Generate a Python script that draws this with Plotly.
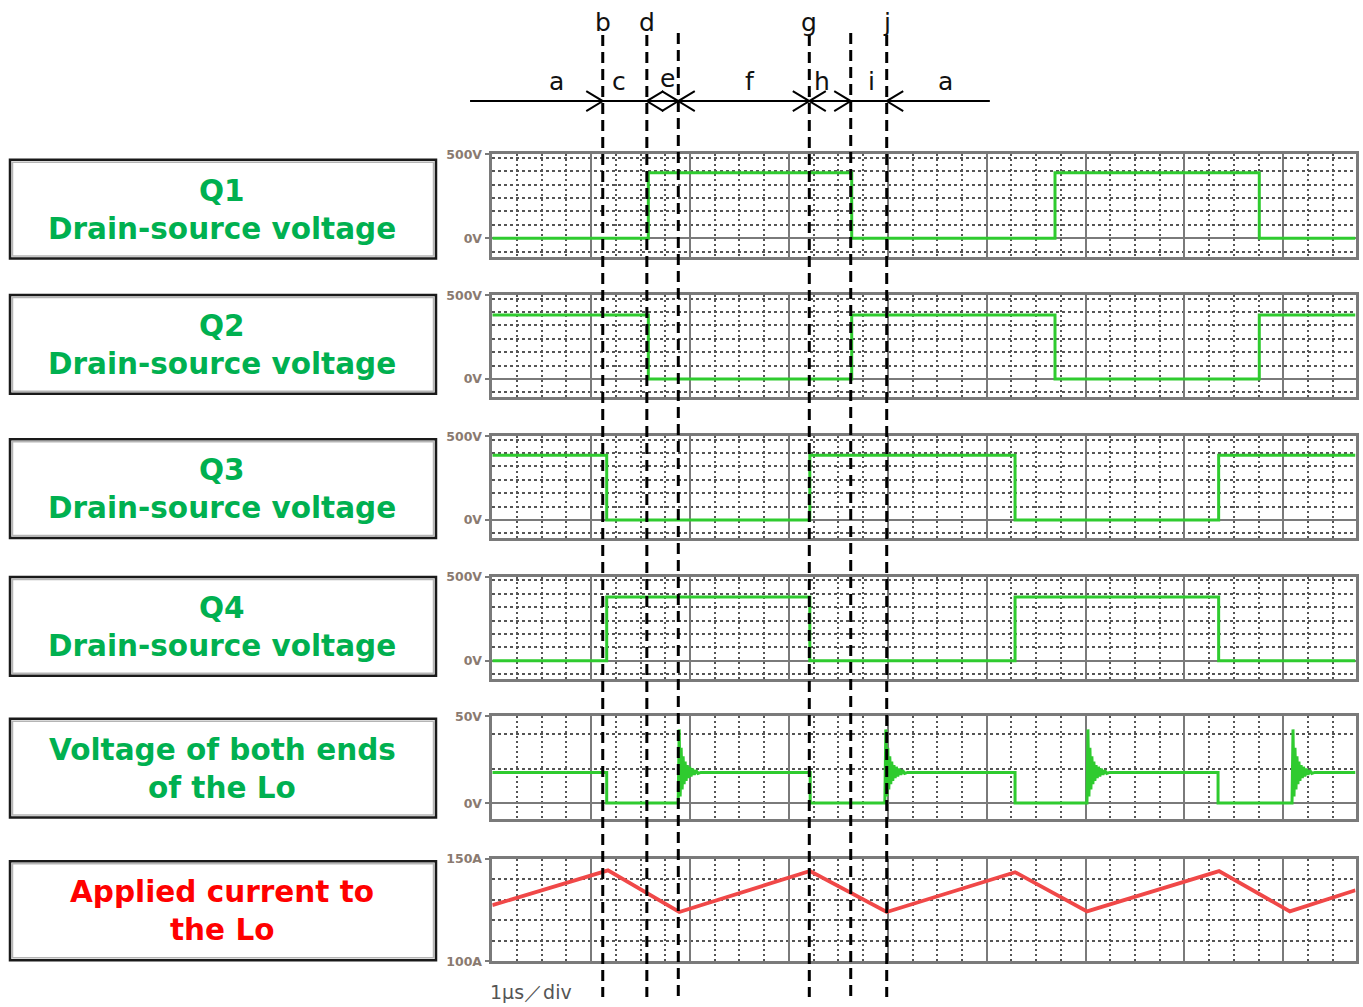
import plotly.graph_objects as go

W, H = 1363, 1007

# ------------------------------------------------------------------ data
T_END = 8.73  # visible time window, us (1 us / div)

Q1_T = [0, 1.578, 3.635, 5.691, 7.757, T_END]
Q1_V = [0, 391, 0, 391, 0, 0]
Q2_T = [0, 1.578, 3.635, 5.691, 7.757, T_END]
Q2_V = [382, 0, 382, 0, 382, 382]
Q3_T = [0, 1.157, 3.211, 5.287, 7.346, T_END]
Q3_V = [387, 0, 387, 0, 387, 387]
Q4_T = [0, 1.157, 3.211, 5.287, 7.346, T_END]
Q4_V = [0, 381, 0, 381, 0, 0]

LO_FALL = [1.157, 3.215, 5.287, 7.340]
LO_RISE = [1.880, 3.970, 6.014, 8.088]
LO_HIGH = 17.8
LO_LOW = 0.3
RING_DT = [0.000, 0.010, 0.020, 0.030, 0.040, 0.050, 0.060, 0.070, 0.080,
           0.092, 0.104, 0.116, 0.130, 0.145, 0.162, 0.180, 0.200, 0.230]
RING_V = [0.3, 42.5, 4.0, 32.0, 8.0, 27.0, 11.0, 24.0, 13.0,
          22.0, 14.5, 21.0, 15.5, 20.0, 16.5, 19.0, 17.2, 17.8]

I_T = [0, 1.170, 1.891, 3.213, 3.989, 5.287, 6.015, 7.350, 8.066, T_END]
I_A = [127.3, 144.3, 124.0, 144.0, 124.0, 143.4, 124.3, 143.9, 124.3, 134.6]

# interval markers (us)
EVENT_T = [1.117, 1.563, 1.881, 3.206, 3.625, 3.989]
EVENT_LBL = ["b", "d", "", "g", "", "j"]
INTERVAL_LBL = ["a", "c", "e", "f", "h", "i", "a"]
INTERVAL_X = [0.654, 1.281, 1.767, 2.606, 3.334, 3.840, 4.588]

BOX_LINES = [("Q1", "Drain-source voltage"), ("Q2", "Drain-source voltage"),
             ("Q3", "Drain-source voltage"), ("Q4", "Drain-source voltage"),
             ("Voltage of both ends", "of the Lo"), ("Applied current to", "the Lo")]

Y_TICKS = [([0, 500], ["0V", "500V"]), ([0, 500], ["0V", "500V"]),
           ([0, 500], ["0V", "500V"]), ([0, 500], ["0V", "500V"]),
           ([0, 50], ["0V", "50V"]), ([100, 150], ["100A", "150A"])]
Y_MINOR = [[-80, 80, 160, 240, 320, 400, 480]] * 4 + [[20, 40], [110, 120, 130, 140]]
Y_RANGE = [[-109, 500]] * 4 + [[-8.8, 50], [100, 150]]

# ------------------------------------------------------------------ layout constants
# vertical pixel compensation observed in the capture (target = 0.987 * render + 6)
SY, OY = 0.987, 6.0


def rp(y):
    return (y - OY) / SY


PX_L, PX_R = 492.3, 1355.5
PANEL_PX = [(152.7, 255.0), (293.8, 396.1), (435.0, 537.3),
            (576.1, 678.4), (715.7, 818.3), (858.3, 961.0)]
BOX_TOP = [158, 293.5, 438, 576, 718, 861]
BOX_H = 99
BOX_X0, BOX_X1 = 10, 436
GREEN_TXT = "#00B050"
RED_TXT = "#FF0000"
WAVE_GREEN = "#2FCB2F"
WAVE_RED = "#F04848"
GRID_MAJOR = "#7a7a7a"
GRID_MINOR = "#555555"

# build Lo voltage series from readings
lo_t, lo_v = [0.0], [LO_HIGH]
for f, r in zip(LO_FALL, LO_RISE):
    lo_t += [f, f]
    lo_v += [LO_HIGH, LO_LOW]
    for dt, v in zip(RING_DT, RING_V):
        lo_t.append(r + dt)
        lo_v.append(v)
lo_t.append(T_END)
lo_v.append(LO_HIGH)

fig = go.Figure()

series = [(Q1_T, Q1_V, "hv", WAVE_GREEN), (Q2_T, Q2_V, "hv", WAVE_GREEN),
          (Q3_T, Q3_V, "hv", WAVE_GREEN), (Q4_T, Q4_V, "hv", WAVE_GREEN),
          (lo_t, lo_v, "linear", WAVE_GREEN), (I_T, I_A, "linear", WAVE_RED)]

layout = {}
d0, d1 = PX_L / W, PX_R / W
for i, (tx, ty, shp, col) in enumerate(series):
    n = i + 1
    sx = "" if n == 1 else str(n)
    fig.add_trace(go.Scatter(x=tx, y=ty, mode="lines",
                             line=dict(color=col, width=3.8 if i == 5 else 3.0, shape=shp),
                             xaxis="x" + sx, yaxis="y" + sx, showlegend=False, hoverinfo="skip"))
    top, bot = PANEL_PX[i]
    layout["xaxis" + sx] = dict(
        domain=[d0, d1], range=[0, T_END], anchor="y" + sx,
        showticklabels=False, ticks="", dtick=1, tick0=0,
        showgrid=True, gridcolor=GRID_MAJOR, gridwidth=2,
        minor=dict(dtick=0.25, tick0=0, showgrid=True, gridcolor=GRID_MINOR,
                   gridwidth=1.5, griddash="2px,3px"),
        showline=True, mirror=True, linecolor=GRID_MAJOR, linewidth=2.5,
        zeroline=False, fixedrange=True)
    tv, tt = Y_TICKS[i]
    layout["yaxis" + sx] = dict(
        domain=[1 - rp(bot) / H, 1 - rp(top) / H], range=Y_RANGE[i], anchor="x" + sx,
        tickmode="array", tickvals=tv, ticktext=tt,
        ticks="outside", ticklen=5, tickcolor=GRID_MAJOR, tickwidth=1.5,
        tickfont=dict(family="DejaVu Sans", size=12.5, color="#8a7a70", weight="bold"),
        showgrid=True, gridcolor=GRID_MAJOR, gridwidth=2,
        minor=dict(tickvals=Y_MINOR[i], showgrid=True, gridcolor=GRID_MINOR,
                   gridwidth=1.5, griddash="3px,3px"),
        showline=True, mirror=True, linecolor=GRID_MAJOR, linewidth=2.5,
        zeroline=False, fixedrange=True)

# overlay axes: time (same scale as panels) horizontally, pixel rows vertically
span = T_END / (d1 - d0)
x7_range = [-d0 * span, T_END + (1 - d1) * span]
fig.add_trace(go.Scatter(x=[], y=[], xaxis="x7", yaxis="y7", showlegend=False, hoverinfo="skip"))
layout["xaxis7"] = dict(domain=[0, 1], range=x7_range, visible=False, anchor="y7", fixedrange=True)
layout["yaxis7"] = dict(domain=[0, 1], range=[SY * H + OY, OY], visible=False, anchor="x7", fixedrange=True)

shapes = []
annotations = []

# dashed event lines
DASH_TOP = [33, 33, 31, 33, 31, 33]
for t, y0 in zip(EVENT_T, DASH_TOP):
    shapes.append(dict(type="line", xref="x7", yref="y7", x0=t, x1=t, y0=y0, y1=997,
                       line=dict(color="black", width=3, dash="11px,6px"), layer="above"))

# horizontal interval line with chevrons
ROW_Y = 99.3
LINE_T0, LINE_T1 = -0.225, 5.032
shapes.append(dict(type="line", xref="x7", yref="y7", x0=LINE_T0, x1=LINE_T1, y0=ROW_Y, y1=ROW_Y,
                   line=dict(color="black", width=2), layer="above"))
ARM_T = 16.5 / (PX_R - PX_L) * T_END
ARM_Y = 10
right_idx = [0, 2, 3, 4]
left_idx = [1, 2, 3, 5]
for k in right_idx:
    t = EVENT_T[k]
    shapes.append(dict(type="path", xref="x7", yref="y7",
                       path=f"M{t-ARM_T},{ROW_Y-ARM_Y} L{t},{ROW_Y} L{t-ARM_T},{ROW_Y+ARM_Y}",
                       line=dict(color="black", width=2), layer="above"))
for k in left_idx:
    t = EVENT_T[k]
    shapes.append(dict(type="path", xref="x7", yref="y7",
                       path=f"M{t+ARM_T},{ROW_Y-ARM_Y} L{t},{ROW_Y} L{t+ARM_T},{ROW_Y+ARM_Y}",
                       line=dict(color="black", width=2), layer="above"))

LETTER_FONT = dict(family="DejaVu Sans", size=25, color="#111111")
for t, lbl in zip(EVENT_T, EVENT_LBL):
    if lbl:
        annotations.append(dict(xref="x7", yref="y7", x=t, y=21, text=lbl, showarrow=False,
                                xanchor="center", yanchor="middle", font=LETTER_FONT))
for t, lbl in zip(INTERVAL_X, INTERVAL_LBL):
    annotations.append(dict(xref="x7", yref="y7", x=t, y=77 if lbl == "e" else 80, text=lbl,
                            showarrow=False, xanchor="center", yanchor="middle", font=LETTER_FONT))

# left label boxes
for i, (l1, l2) in enumerate(BOX_LINES):
    top = BOX_TOP[i]
    bot = top + BOX_H
    col = RED_TXT if i == 5 else GREEN_TXT
    shapes.append(dict(type="rect", xref="paper", yref="y7",
                       x0=(BOX_X0 + 2.5) / W, x1=(BOX_X1 - 2.5) / W, y0=top + 2.5, y1=bot - 2.5,
                       line=dict(color="#b5b5b5", width=1.5), layer="above"))
    shapes.append(dict(type="rect", xref="paper", yref="y7",
                       x0=BOX_X0 / W, x1=BOX_X1 / W, y0=top, y1=bot,
                       line=dict(color="#1a1a1a", width=2.5), layer="above"))
    for txt, dy in ((l1, 31), (l2, 69)):
        annotations.append(dict(xref="paper", yref="y7", x=222 / W, y=top + dy, text=txt,
                                showarrow=False, xanchor="center", yanchor="middle",
                                font=dict(family="DejaVu Sans", size=29.5, color=col, weight="bold")))

annotations.append(dict(xref="paper", yref="y7", x=488 / W, y=992, text="1μs／div", showarrow=False,
                        xanchor="left", yanchor="middle",
                        font=dict(family="DejaVu Sans", size=19, color="#555555")))

fig.update_layout(
    width=W, height=H, margin=dict(l=0, r=0, t=0, b=0),
    paper_bgcolor="white", plot_bgcolor="rgba(0,0,0,0)",
    showlegend=False, shapes=shapes, annotations=annotations, **layout)

fig.write_html("out.html", config=dict(displayModeBar=False))
